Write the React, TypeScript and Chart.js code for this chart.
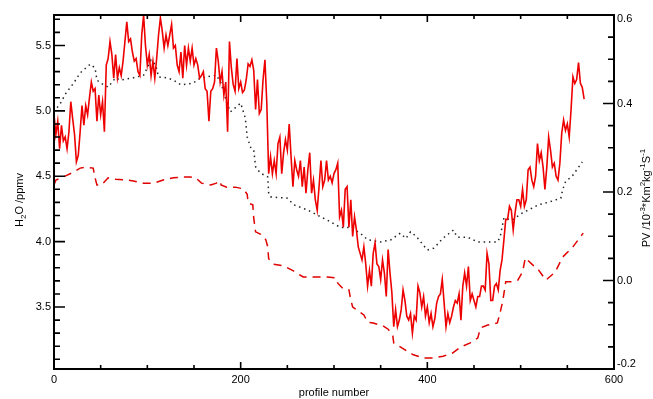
import React, { useEffect, useRef } from 'react';
import { Chart, registerables } from 'chart.js';

Chart.register(...registerables);

// ---- data -------------------------------------------------------------
// H2O mixing ratio (ppmv), one value every PROFILE_STEP profiles starting at 0
const PROFILE_STEP = 2;
const h2o = [
  4.97, 4.82, 4.92, 4.71, 4.89, 4.77, 4.80, 4.71, 4.84, 5.07,
  4.94, 4.82, 4.61, 4.66, 4.84, 5.04, 4.89, 5.04, 4.97, 5.10,
  5.22, 5.15, 5.17, 4.92, 5.12, 4.97, 5.07, 4.84, 5.35, 5.40,
  5.53, 5.43, 5.25, 5.43, 5.25, 5.33, 5.27, 5.38, 5.53, 5.68,
  5.53, 5.55, 5.45, 5.38, 5.40, 5.30, 5.27, 5.58, 5.73, 5.50,
  5.35, 5.43, 5.27, 5.38, 5.25, 5.40, 5.58, 5.71, 5.61, 5.48,
  5.58, 5.50, 5.58, 5.66, 5.48, 5.50, 5.35, 5.30, 5.45, 5.25,
  5.50, 5.35, 5.48, 5.38, 5.48, 5.35, 5.40, 5.35, 5.25, 5.27,
  5.30, 5.17, 5.15, 4.92, 5.15, 5.17, 5.22, 5.48, 5.38, 5.22,
  5.30, 5.12, 5.22, 4.84, 5.53, 5.33, 5.20, 5.15, 5.40, 5.17,
  5.22,
  5.14, 5.16, 5.24, 5.36, 5.34, 5.39, 5.31, 5.01, 5.24, 4.98,
  5.01, 5.24, 5.39, 5.06, 4.52, 4.65, 4.52, 4.62, 4.52, 4.75,
  4.80, 4.52, 4.68, 4.78, 4.70, 4.90, 4.65, 4.42, 4.62, 4.55,
  4.50, 4.62, 4.42, 4.57, 4.37, 4.55, 4.68, 4.37, 4.47, 4.32,
  4.24, 4.42, 4.62, 4.42, 4.47, 4.62, 4.47, 4.50, 4.45, 4.52,
  4.55, 4.60, 4.19, 4.24, 4.11, 4.40, 4.42, 4.11, 4.32, 4.04,
  4.19, 4.09, 3.96, 3.91, 3.86, 3.96, 3.83, 3.66, 3.78, 3.66,
  3.91, 3.99, 3.83, 3.81, 3.71, 3.86, 3.76, 3.58, 3.94, 3.76,
  3.61, 3.35, 3.48, 3.35, 3.40, 3.48, 3.63, 3.55, 3.43, 3.40,
  3.45, 3.30, 3.43, 3.40, 3.66, 3.61, 3.50, 3.58, 3.43, 3.50,
  3.38, 3.45, 3.35, 3.41, 3.53, 3.58, 3.60, 3.71, 3.53, 3.35,
  3.45, 3.38, 3.43, 3.50, 3.55, 3.53, 3.60, 3.40, 3.66, 3.76,
  3.66, 3.81, 3.55, 3.60, 3.55, 3.50, 3.58, 3.58, 3.66, 3.66,
  3.63, 3.91, 3.83, 3.55, 3.55, 3.66, 3.68, 3.63, 3.78, 3.86,
  4.01, 4.17, 4.17, 4.27, 4.24, 4.09, 4.22, 4.32, 4.32, 4.27,
  4.40, 4.27, 4.32, 4.55, 4.57, 4.47, 4.42, 4.50, 4.75, 4.62,
  4.68, 4.57, 4.40, 4.57, 4.80, 4.70, 4.57, 4.60, 4.50, 4.47,
  4.60, 4.83, 4.93, 4.85, 4.90, 4.80, 5.01, 5.26, 5.21, 5.24,
  5.37, 5.21, 5.18, 5.09,
];

// PV along the upper (dotted) curve
const pvUpperProfiles = [
  0, 7, 13, 21, 28, 35, 39, 44, 46, 50, 58, 66, 71, 85, 96, 104, 109, 112,
  121, 128, 136, 149, 157, 174, 179, 185, 189, 200, 205, 207, 211, 214, 216,
  221, 229, 230, 232, 250, 257, 272, 282, 293, 307, 318, 328, 336, 350, 361,
  371, 377, 382, 388, 400, 407, 417, 428, 432, 443, 454, 465, 475, 478, 482,
  491, 502, 508, 519, 530, 543, 545, 548, 556, 566,
];
const pvUpper = [
  0.381, 0.401, 0.424, 0.446, 0.469, 0.482, 0.489, 0.480, 0.453, 0.446, 0.437,
  0.458, 0.453, 0.458, 0.464, 0.498, 0.487, 0.460, 0.458, 0.453, 0.442, 0.446,
  0.458, 0.464, 0.446, 0.403, 0.381, 0.401, 0.367, 0.324, 0.299, 0.295, 0.257,
  0.243, 0.234, 0.198, 0.189, 0.186, 0.171, 0.159, 0.148, 0.136, 0.120, 0.120,
  0.107, 0.092, 0.087, 0.092, 0.107, 0.095, 0.110, 0.100, 0.069, 0.073, 0.096,
  0.114, 0.098, 0.098, 0.087, 0.087, 0.087, 0.098, 0.141, 0.137, 0.153, 0.159,
  0.171, 0.177, 0.186, 0.205, 0.223, 0.238, 0.268,
];

// PV along the lower (dashed) curve
const pvLowerProfiles = [
  0, 2, 10, 21, 28, 35, 42, 44, 46, 51, 58, 66, 78, 85, 96, 107, 117, 128,
  139, 146, 152, 158, 168, 174, 178, 179, 185, 194, 203, 207, 208, 213, 214,
  216, 221, 227, 229, 230, 235, 246, 257, 267, 282, 293, 302, 304, 310, 316,
  318, 320, 325, 332, 336, 342, 353, 358, 363, 364, 371, 385, 396, 407, 417,
  427, 436, 446, 454, 457, 464, 475, 478, 481, 484, 491, 497, 502, 505, 514,
  519, 527, 537, 545, 556, 567,
];
const pvLower = [
  0.216, 0.227, 0.234, 0.245, 0.254, 0.256, 0.254, 0.232, 0.216, 0.216, 0.232,
  0.229, 0.227, 0.225, 0.220, 0.220, 0.227, 0.232, 0.234, 0.234, 0.232, 0.220,
  0.216, 0.220, 0.225, 0.216, 0.211, 0.211, 0.207, 0.195, 0.175, 0.171, 0.141,
  0.110, 0.105, 0.092, 0.076, 0.049, 0.037, 0.033, 0.021, 0.008, 0.008, 0.008,
  0.006, -0.006, -0.019, -0.021, -0.044, -0.060, -0.067, -0.078, -0.094,
  -0.096, -0.103, -0.110, -0.125, -0.141, -0.150, -0.168, -0.175, -0.175,
  -0.171, -0.164, -0.150, -0.141, -0.130, -0.107, -0.101, -0.096, -0.073,
  -0.044, -0.003, -0.003, 0.001, 0.019, 0.051, 0.033, 0.024, 0.001, 0.019,
  0.053, 0.076, 0.107,
];

// ---- axes -------------------------------------------------------------
const X_RANGE = [0, 600];
const xMajorTicks = [0, 200, 400, 600];
const X_MINOR = 50;
const H2O_RANGE = [3.026, 5.733];
const h2oMajorTicks = [3.5, 4.0, 4.5, 5.0, 5.5];
const H2O_MINOR = 0.1;
const PV_RANGE = [-0.2, 0.6];
const pvMajorTicks = [-0.2, 0.0, 0.2, 0.4, 0.6];
const PV_MINOR = 0.05;

const FONT = '"Liberation Sans", Arial, Helvetica, sans-serif';

function minorValues(min: number, max: number, step: number) {
  const out: number[] = [];
  const k0 = Math.ceil(min / step - 1e-6);
  const k1 = Math.floor(max / step + 1e-6);
  for (let k = k0; k <= k1; k++) out.push(+(k * step).toFixed(4));
  return out;
}

function isMajor(v: number, majors: number[]) {
  return majors.some((m) => Math.abs(m - v) < 1e-6);
}

// draws a run of [text, kind] pieces along a rotated baseline; kind: 0 normal, 1 sub, 2 sup
function drawRich(ctx: CanvasRenderingContext2D, parts: [string, number][], cx: number, cy: number, size: number) {
  const small = Math.round(size * 0.72);
  const widths = parts.map(([t, k]) => {
    ctx.font = `${k ? small : size}px ${FONT}`;
    return ctx.measureText(t).width;
  });
  const total = widths.reduce((s, w) => s + w, 0);
  ctx.save();
  ctx.translate(cx, cy);
  ctx.rotate(-Math.PI / 2);
  ctx.textBaseline = 'middle';
  ctx.textAlign = 'left';
  let x = -total / 2;
  parts.forEach(([t, k], i) => {
    ctx.font = `${k ? small : size}px ${FONT}`;
    const dy = k === 1 ? size * 0.3 : k === 2 ? -size * 0.38 : 0;
    ctx.fillText(t, x, dy);
    x += widths[i];
  });
  ctx.restore();
}

const framePlugin = {
  id: 'idlFrame',
  afterDraw(chart: any) {
    const { ctx, chartArea: a, scales } = chart;
    const sx = scales.x;
    const sl = scales.y;
    const sr = scales.y1;
    ctx.save();
    ctx.strokeStyle = '#000';
    ctx.fillStyle = '#000';
    ctx.lineWidth = 2;
    ctx.strokeRect(a.left, a.top, a.right - a.left, a.bottom - a.top);

    ctx.lineWidth = 1.6;
    ctx.beginPath();
    for (const v of minorValues(X_RANGE[0], X_RANGE[1], X_MINOR)) {
      const px = sx.getPixelForValue(v);
      const len = isMajor(v, xMajorTicks) ? 7 : 4;
      ctx.moveTo(px, a.bottom);
      ctx.lineTo(px, a.bottom - len);
      ctx.moveTo(px, a.top);
      ctx.lineTo(px, a.top + len);
    }
    for (const v of minorValues(H2O_RANGE[0], H2O_RANGE[1], H2O_MINOR)) {
      const py = sl.getPixelForValue(v);
      const len = isMajor(v, h2oMajorTicks) ? 11 : 6;
      ctx.moveTo(a.left, py);
      ctx.lineTo(a.left + len, py);
    }
    for (const v of minorValues(PV_RANGE[0], PV_RANGE[1], PV_MINOR)) {
      const py = sr.getPixelForValue(v);
      const len = isMajor(v, pvMajorTicks) ? 11 : 6;
      ctx.moveTo(a.right, py);
      ctx.lineTo(a.right - len, py);
    }
    ctx.stroke();

    ctx.font = `11px ${FONT}`;
    ctx.textBaseline = 'middle';
    ctx.textAlign = 'center';
    for (const v of xMajorTicks) {
      ctx.fillText(String(v), sx.getPixelForValue(v), a.bottom + 11);
    }
    ctx.fillText('profile number', (a.left + a.right) / 2, a.bottom + 24);

    ctx.textAlign = 'right';
    for (const v of h2oMajorTicks) {
      ctx.fillText(v.toFixed(1), a.left - 3, sl.getPixelForValue(v));
    }
    ctx.textAlign = 'left';
    for (const v of pvMajorTicks) {
      const py = Math.min(Math.max(sr.getPixelForValue(v), a.top + 4), a.bottom - 5);
      ctx.fillText(v.toFixed(1), a.right + 3, py);
    }

    drawRich(ctx, [['H', 0], ['2', 1], ['O /ppmv', 0]], 20, (a.top + a.bottom) / 2 + 8, 11);
    drawRich(
      ctx,
      [['PV /10', 0], ['-3', 2], ['*Km', 0], ['2', 2], ['kg', 0], ['-1', 2], ['S', 0], ['-1', 2]],
      647,
      (a.top + a.bottom) / 2 + 6,
      11,
    );
    ctx.restore();
  },
};

export default function App() {
  const canvasRef = useRef<HTMLCanvasElement | null>(null);

  useEffect(() => {
    const canvas = canvasRef.current;
    if (!canvas) return;
    const chart = new Chart(canvas, {
      type: 'line',
      data: {
        datasets: [
          {
            label: 'H2O',
            data: h2o.map((v, i) => ({ x: i * PROFILE_STEP, y: v })),
            yAxisID: 'y',
            borderColor: '#ee0000',
            borderWidth: 1.6,
            pointRadius: 0,
            tension: 0,
            order: 0,
          },
          {
            label: 'PV upper',
            data: pvUpperProfiles.map((p, i) => ({ x: p, y: pvUpper[i] })),
            yAxisID: 'y1',
            borderColor: '#222222',
            borderWidth: 1.5,
            borderDash: [1.5, 3.8],
            pointRadius: 0,
            tension: 0,
            order: 1,
          },
          {
            label: 'PV lower',
            data: pvLowerProfiles.map((p, i) => ({ x: p, y: pvLower[i] })),
            yAxisID: 'y1',
            borderColor: '#e00000',
            borderWidth: 1.5,
            borderDash: [8, 6],
            pointRadius: 0,
            tension: 0,
            order: 2,
          },
        ],
      },
      options: {
        animation: false,
        responsive: false,
        devicePixelRatio: 1,
        events: [],
        layout: { padding: { left: 54, right: 39, top: 15, bottom: 30 } },
        plugins: { legend: { display: false }, tooltip: { enabled: false } },
        scales: {
          x: { type: 'linear', min: X_RANGE[0], max: X_RANGE[1], display: false },
          y: { type: 'linear', min: H2O_RANGE[0], max: H2O_RANGE[1], display: false },
          y1: { type: 'linear', position: 'right', min: PV_RANGE[0], max: PV_RANGE[1], display: false },
        },
      },
      plugins: [framePlugin],
    });
    return () => chart.destroy();
  }, []);

  return (
    <div style={{ position: 'absolute', left: 0, top: 0, width: 653, height: 399, background: '#fff' }}>
      <canvas ref={canvasRef} width={653} height={399} style={{ display: 'block' }} />
    </div>
  );
}
